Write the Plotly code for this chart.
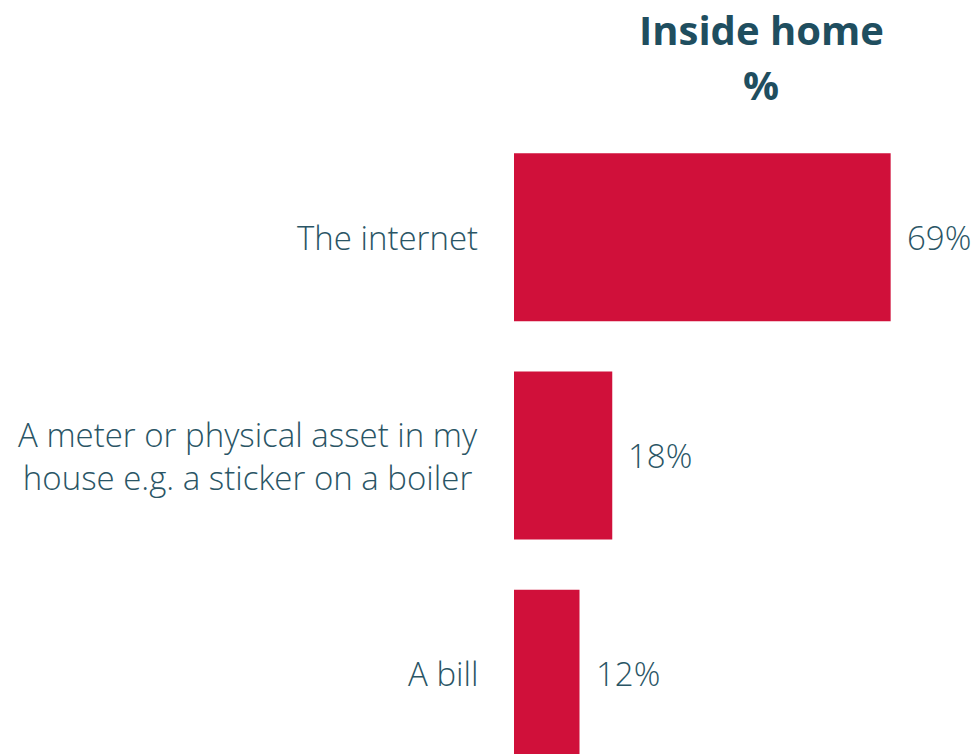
import plotly.graph_objects as go

categories = ["The internet",
              "A meter or physical asset in my<br>house e.g. a sticker on a boiler",
              "A bill"]
values = [69, 18, 12]
value_labels = ["69%", "18%", "12%"]
title_lines = ["<b>Inside home</b>", "<b>%</b>"]

bar_color = "#D0103A"
text_color = "#2A5565"
title_color = "#1F4E5F"
font_family = "Open Sans"

fig = go.Figure()
fig.add_trace(go.Bar(
    y=categories, x=values, orientation="h",
    marker=dict(color=bar_color, line=dict(width=0)),
    hoverinfo="skip",
))
label_font = dict(family=font_family, size=33, color=text_color, weight=300)
for cat, v, lab in zip(categories, values, value_labels):
    fig.add_annotation(x=v, y=cat, text=lab, showarrow=False,
                       xanchor="left", yanchor="middle", xshift=14,
                       font=label_font)
    fig.add_annotation(x=0, y=cat, text=cat, showarrow=False, align="center",
                       xanchor="right", yanchor="middle", xshift=-34,
                       font=label_font)

for line, shift in zip(title_lines, [91, 36]):
    fig.add_annotation(x=(761 - 514) / 464, y=1, xref="x domain", yref="paper",
                       xanchor="center", yanchor="middle", yshift=shift, borderpad=0,
                       text=line, showarrow=False,
                       font=dict(family=font_family, size=40, color=title_color))

fig.update_layout(
    width=978, height=754,
    margin=dict(l=514, r=0, t=120, b=0, pad=0),
    paper_bgcolor="white", plot_bgcolor="white",
    bargap=0.23,
    showlegend=False,
    xaxis=dict(range=[0, 85], visible=False, fixedrange=True),
    yaxis=dict(range=[2.367, -0.537], showgrid=False, zeroline=False, showline=False,
               ticks="", showticklabels=False, fixedrange=True),
)
fig.write_html("out.html", config={"displayModeBar": False, "staticPlot": True},
               post_script="document.body.style.margin='0';document.body.style.overflow='hidden';")
